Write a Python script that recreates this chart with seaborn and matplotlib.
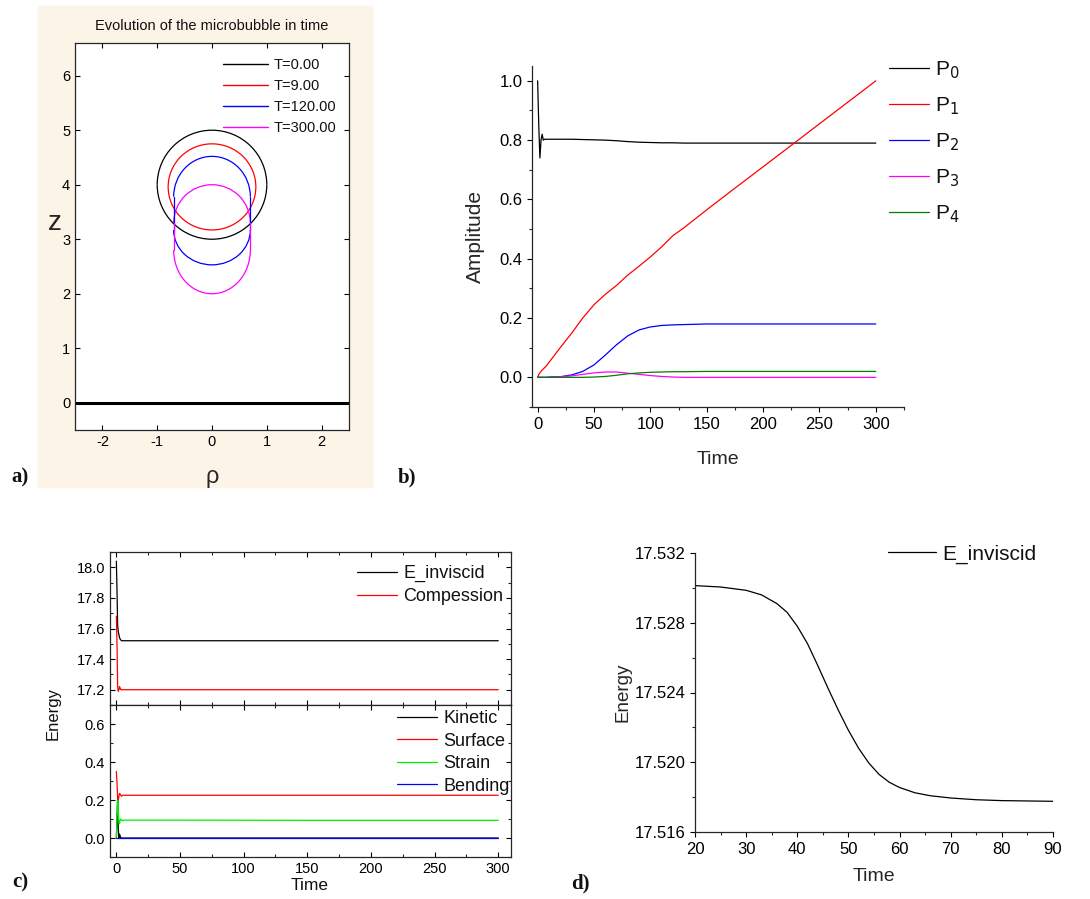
import matplotlib
matplotlib.use("Agg")
import matplotlib.pyplot as plt
import seaborn as sns
from matplotlib.patches import Arc, Rectangle
from matplotlib.lines import Line2D
from matplotlib.ticker import MultipleLocator, FormatStrFormatter

# ---- panel a: bubble outlines ----
bubble_labels = ['T=0.00', 'T=9.00', 'T=120.00', 'T=300.00']
bubble_colors = ['#000000', '#ff0000', '#0000ff', '#ff00ff']
half_width = [1.00, 0.80, 0.70, 0.70]
top_center = [4.00, 3.96, 3.78, 3.30]
top_height = [1.00, 0.79, 0.74, 0.70]
bottom_center = [4.00, 3.96, 3.17, 2.80]
bottom_height = [1.00, 0.79, 0.64, 0.80]

# ---- panel b: Legendre amplitudes ----
time_b = [0, 1, 2, 3, 4, 5, 6, 8, 10, 20, 30, 40, 50, 60, 70, 80, 90, 100,
          110, 120, 130, 150, 175, 200, 250, 300]
p0 = [1.0, 0.85, 0.74, 0.80, 0.82, 0.80, 0.803, 0.803, 0.803, 0.803, 0.803, 0.802,
      0.801, 0.800, 0.798, 0.795, 0.793, 0.792, 0.791, 0.791, 0.790, 0.790,
      0.790, 0.790, 0.790, 0.790]
p1 = [0.0, 0.01, 0.015, 0.02, 0.025, 0.028, 0.032, 0.04, 0.05, 0.10, 0.148, 0.20,
      0.245, 0.28, 0.31, 0.345, 0.375, 0.406, 0.44, 0.478, 0.505, 0.565,
      0.638, 0.71, 0.855, 1.0]
p2 = [0.0, 0.0, 0.0, 0.0, 0.0, 0.0, 0.0, 0.0, 0.001, 0.002, 0.008, 0.02,
      0.042, 0.075, 0.11, 0.14, 0.16, 0.17, 0.175, 0.177, 0.178, 0.18,
      0.18, 0.18, 0.18, 0.18]
p3 = [0.0, 0.0, 0.0, 0.0, 0.0, 0.0, 0.0, 0.0, 0.0, 0.002, 0.005, 0.01,
      0.015, 0.018, 0.018, 0.014, 0.01, 0.006, 0.003, 0.001, 0.0, 0.0,
      0.0, 0.0, 0.0, 0.0]
p4 = [0.0, 0.0, 0.0, 0.0, 0.0, 0.0, 0.0, 0.0, 0.0, 0.0, 0.0, 0.0,
      0.001, 0.003, 0.007, 0.012, 0.015, 0.017, 0.018, 0.019, 0.019, 0.02,
      0.02, 0.02, 0.02, 0.02]
p_labels = ['P$_0$', 'P$_1$', 'P$_2$', 'P$_3$', 'P$_4$']
p_colors = ['#000000', '#ff0000', '#0000ff', '#ff00ff', '#008000']

# ---- panel c: energies ----
time_c = [0, 0.5, 1, 1.5, 2, 2.5, 3, 3.5, 4, 5, 6, 8, 10, 50, 150, 300]
e_inviscid = [18.04, 17.85, 17.62, 17.58, 17.56, 17.54, 17.53, 17.525, 17.52,
              17.52, 17.52, 17.52, 17.52, 17.52, 17.52, 17.52]
compression = [17.68, 17.5, 17.22, 17.19, 17.2, 17.22, 17.21, 17.2, 17.2,
               17.2, 17.2, 17.2, 17.2, 17.2, 17.2, 17.2]
kinetic = [0.0, 0.1, 0.22, 0.05, 0.0, 0.02, 0.01, 0.0, 0.0,
           0.0, 0.0, 0.0, 0.0, 0.0, 0.0, 0.0]
surface = [0.35, 0.29, 0.21, 0.2, 0.22, 0.235, 0.23, 0.225, 0.22,
           0.225, 0.225, 0.225, 0.225, 0.225, 0.225, 0.225]
strain = [0.0, 0.1, 0.2, 0.15, 0.08, 0.075, 0.095, 0.1, 0.095,
          0.09, 0.095, 0.094, 0.094, 0.094, 0.093, 0.093]
bending = [0.0] * 16

# ---- panel d: zoom on E_inviscid ----
time_d = [20, 25, 30, 33, 36, 38, 40, 42, 44, 46, 48, 50, 52, 54, 56, 58, 60,
          63, 66, 70, 75, 80, 85, 90]
e_zoom = [17.53013, 17.53005, 17.52986, 17.52960, 17.52910, 17.52860, 17.52780,
          17.52680, 17.52555, 17.52425, 17.52300, 17.52183, 17.52080, 17.51995,
          17.51930, 17.51885, 17.51855, 17.51825, 17.51808, 17.51795, 17.51785,
          17.51780, 17.51778, 17.51776]

W, H = 1090, 899
sns.set_theme(style='ticks')
plt.rcParams['font.family'] = ['Liberation Sans', 'DejaVu Sans']
plt.rcParams['axes.linewidth'] = 0.9
plt.rcParams['axes.unicode_minus'] = False
plt.rcParams['text.color'] = '#111111'
SERIF = ['Liberation Serif', 'DejaVu Serif']

fig = plt.figure(figsize=(W / 100, H / 100), dpi=100)


def px_rect(left, top, right, bottom):
    return [left / W, 1 - bottom / H, (right - left) / W, (bottom - top) / H]


def style_ticks(ax, direction, labelsize):
    ax.tick_params(which='major', direction=direction, length=3.5, width=0.8,
                   labelsize=labelsize, colors='black')
    ax.tick_params(which='minor', direction=direction, length=2, width=0.8)


# ======== panel a ========
fig.patches.append(Rectangle((38 / W, 1 - 487 / H), (372 - 38) / W, (487 - 6) / H,
                             transform=fig.transFigure, color='#fdf4e8', zorder=-5))
ax_a = fig.add_axes(px_rect(75, 43, 349, 430))
for i, col in enumerate(bubble_colors):
    ax_a.add_patch(Arc((0, top_center[i]), 2 * half_width[i], 2 * top_height[i],
                       theta1=0, theta2=180, color=col, lw=0.9))
    ax_a.add_patch(Arc((0, bottom_center[i]), 2 * half_width[i], 2 * bottom_height[i],
                       theta1=180, theta2=360, color=col, lw=0.9))
    if top_center[i] != bottom_center[i]:
        for side in (-1, 1):
            ax_a.plot([side * half_width[i]] * 2, [bottom_center[i], top_center[i]],
                      color=col, lw=0.9)
ax_a.axhline(0, color='black', lw=2.2)
ax_a.set_xlim(-2.5, 2.5)
ax_a.set_ylim(-0.5, 6.6)
ax_a.set_xticks([-2, -1, 0, 1, 2])
ax_a.set_yticks([0, 1, 2, 3, 4, 5, 6])
ax_a.tick_params(top=True, right=True)
style_ticks(ax_a, 'in', 10.5)
ax_a.set_xlabel('ρ', fontsize=17, labelpad=12)
ax_a.set_ylabel('z', fontsize=20, rotation=0, labelpad=0)
ax_a.yaxis.set_label_coords(-0.075, 0.50)
handles_a = [Line2D([], [], color=c, lw=1) for c in bubble_colors]
ax_a.legend(handles_a, bubble_labels, loc='upper left', bbox_to_anchor=(0.54, 0.96),
            frameon=False, fontsize=10.5, handlelength=3.1, handletextpad=0.4,
            labelspacing=0.47, borderpad=0, borderaxespad=0)
fig.text(212 / W, 1 - 26 / H, 'Evolution of the microbubble in time',
         ha='center', va='center', fontsize=10.5)

# ======== panel b ========
ax_b = fig.add_axes(px_rect(532, 66, 904, 407))
for series, lab, col in zip([p0, p1, p2, p3, p4], p_labels, p_colors):
    sns.lineplot(x=time_b, y=series, ax=ax_b, color=col, lw=0.9, label=lab,
                 estimator=None, sort=False)
ax_b.set_xlim(-5, 325)
ax_b.set_ylim(-0.1, 1.05)
ax_b.xaxis.set_major_locator(MultipleLocator(50))
ax_b.xaxis.set_minor_locator(MultipleLocator(25))
ax_b.yaxis.set_major_locator(MultipleLocator(0.2))
ax_b.yaxis.set_minor_locator(MultipleLocator(0.1))
ax_b.yaxis.set_major_formatter(FormatStrFormatter('%.1f'))
sns.despine(ax=ax_b)
style_ticks(ax_b, 'out', 12)
ax_b.set_xlabel('Time', fontsize=14, labelpad=14)
ax_b.set_ylabel('Amplitude', fontsize=15, labelpad=10)
ax_b.legend(loc='upper left', bbox_to_anchor=(0.96, 1.02), frameon=False,
            fontsize=15, handlelength=1.9, handletextpad=0.3, labelspacing=0.69,
            borderpad=0, borderaxespad=0)

# ======== panel c ========
ax_c1 = fig.add_axes(px_rect(110, 552, 511, 705))
ax_c2 = fig.add_axes(px_rect(110, 705, 511, 857), sharex=ax_c1)
for series, lab, col in zip([e_inviscid, compression], ['E_inviscid', 'Compession'],
                            ['#000000', '#ff0000']):
    sns.lineplot(x=time_c, y=series, ax=ax_c1, color=col, lw=0.9, label=lab,
                 estimator=None, sort=False)
for series, lab, col in zip([kinetic, surface, strain, bending],
                            ['Kinetic', 'Surface', 'Strain', 'Bending'],
                            ['#000000', '#ff0000', '#00ee00', '#0000ff']):
    sns.lineplot(x=time_c, y=series, ax=ax_c2, color=col, lw=0.9, label=lab,
                 estimator=None, sort=False)
ax_c1.set_xlim(-5, 310)
ax_c1.set_ylim(17.1, 18.1)
ax_c2.set_ylim(-0.1, 0.7)
ax_c1.xaxis.set_major_locator(MultipleLocator(50))
ax_c1.xaxis.set_minor_locator(MultipleLocator(25))
ax_c1.yaxis.set_major_locator(MultipleLocator(0.2))
ax_c1.yaxis.set_minor_locator(MultipleLocator(0.1))
ax_c2.yaxis.set_major_locator(MultipleLocator(0.2))
ax_c2.yaxis.set_minor_locator(MultipleLocator(0.1))
ax_c1.yaxis.set_major_formatter(FormatStrFormatter('%.1f'))
ax_c2.yaxis.set_major_formatter(FormatStrFormatter('%.1f'))
for ax in (ax_c1, ax_c2):
    ax.tick_params(which='both', top=True, right=True)
    style_ticks(ax, 'in', 10.5)
ax_c1.tick_params(labelbottom=False)
ax_c1.set_ylabel('')
ax_c2.set_xlabel('')
fig.text(310 / W, 1 - 885 / H, 'Time', ha='center', va='center', fontsize=12.5)
fig.text(53 / W, 1 - 713 / H, 'Energy', rotation=90, ha='center', va='center',
         fontsize=12)
ax_c1.legend(loc='upper left', bbox_to_anchor=(0.616, 0.915), frameon=False,
             fontsize=13, handlelength=2.2, handletextpad=0.35,
             labelspacing=0.32, borderpad=0, borderaxespad=0)
ax_c2.legend(loc='upper left', bbox_to_anchor=(0.716, 0.965), frameon=False,
             fontsize=13, handlelength=2.2, handletextpad=0.35,
             labelspacing=0.3, borderpad=0, borderaxespad=0)

# ======== panel d ========
ax_d = fig.add_axes(px_rect(695, 553, 1053, 832))
sns.lineplot(x=time_d, y=e_zoom, ax=ax_d, color='black', lw=0.9, label='E_inviscid',
             estimator=None, sort=False)
ax_d.set_xlim(20, 90)
ax_d.set_ylim(17.516, 17.532)
ax_d.xaxis.set_major_locator(MultipleLocator(10))
ax_d.xaxis.set_minor_locator(MultipleLocator(5))
ax_d.yaxis.set_major_locator(MultipleLocator(0.004))
ax_d.yaxis.set_minor_locator(MultipleLocator(0.002))
ax_d.yaxis.set_major_formatter(FormatStrFormatter('%.3f'))
sns.despine(ax=ax_d)
style_ticks(ax_d, 'out', 12)
ax_d.set_xlabel('Time', fontsize=14, labelpad=8)
ax_d.set_ylabel('Energy', fontsize=13.5, labelpad=2)
ax_d.legend(loc='upper left', bbox_to_anchor=(0.539, 1.03), frameon=False,
            fontsize=15, handlelength=2.3, handletextpad=0.3,
            borderpad=0, borderaxespad=0)

# ---- panel letters ----
for txt, x, y in [('a)', 20, 477), ('b)', 407, 477), ('c)', 20, 882), ('d)', 580, 883)]:
    fig.text(x / W, 1 - y / H, txt, ha='center', va='center', fontsize=15,
             fontweight='bold', family=SERIF)

fig.savefig('out.png', dpi=100)
